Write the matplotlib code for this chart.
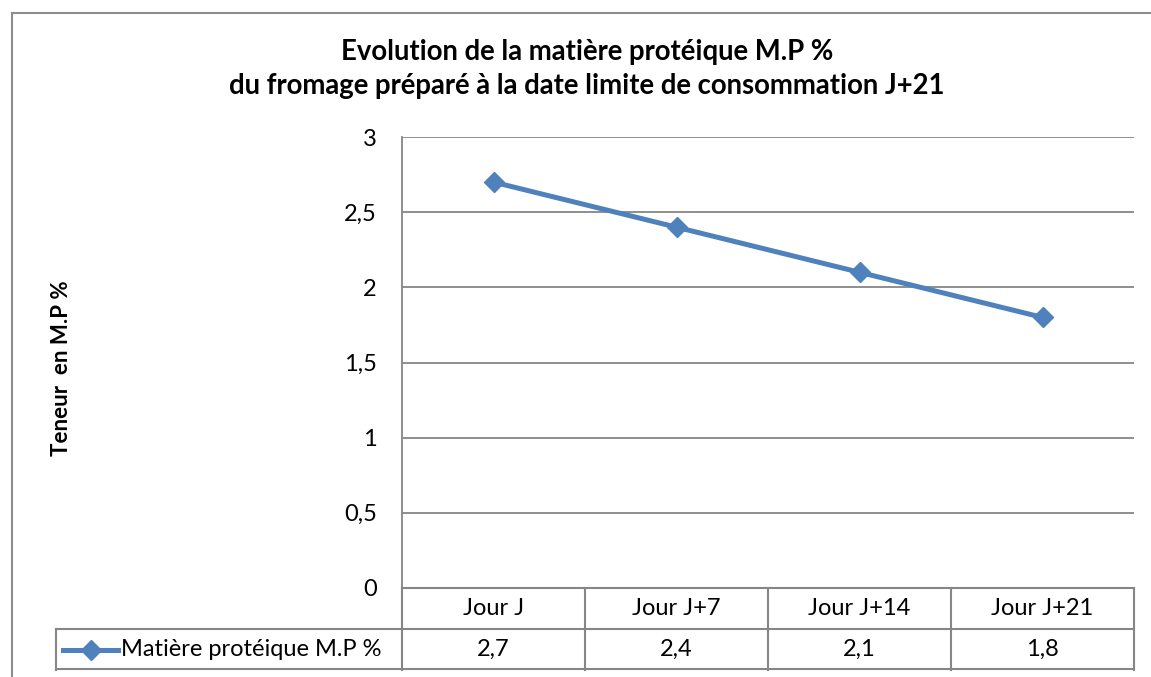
import matplotlib
matplotlib.use("Agg")
import matplotlib.pyplot as plt
from matplotlib.lines import Line2D

categories = ["Jour J", "Jour J+7", "Jour J+14", "Jour J+21"]
values = [2.7, 2.4, 2.1, 1.8]
value_labels = ["2,7", "2,4", "2,1", "1,8"]
series_name = "Matière protéique M.P %"
yticks = [0, 0.5, 1, 1.5, 2, 2.5, 3]
ytick_labels = ["0", "0,5", "1", "1,5", "2", "2,5", "3"]
title = "Evolution de la matière protéique M.P %\ndu fromage préparé à la date limite de consommation J+21"
ylabel = "Teneur  en M.P %"

plt.rcParams['font.family'] = ['Lato', 'DejaVu Sans']

W, H = 1151, 677
fig = plt.figure(figsize=(W / 100, H / 100), dpi=100)
fig.patch.set_facecolor("white")

def fx(px):
    return px / W

def fy(py):
    return 1 - py / H

L, R, T, B = 402, 1134, 137, 588
ax = fig.add_axes([fx(L), fy(B), fx(R) - fx(L), fy(T) - fy(B)])

blue = "#4F81BD"
grid = "#868686"
fs = 17
x = list(range(len(categories)))
ax.plot(x, values, color=blue, lw=3.6, marker="D", markersize=10.5,
        markerfacecolor=blue, markeredgecolor=blue, zorder=3, clip_on=False)

ax.set_xlim(-0.5, len(categories) - 0.5)
ax.set_ylim(0, 3)
ax.set_yticks(yticks)
ax.set_yticklabels(ytick_labels, fontsize=fs)
ax.tick_params(axis="y", length=0, pad=18)
ax.set_xticks([])
for t in ax.get_yticklabels():
    t.set_color("#000000")
for y in yticks[1:]:
    ax.axhline(y, color=grid, lw=1.3, zorder=1)
for s in ["top", "right", "bottom"]:
    ax.spines[s].set_visible(False)
ax.spines["left"].set_color(grid)
ax.spines["left"].set_linewidth(1.3)

# Data table below the plot
row_h = 41 / (B - T)
tr = ax.get_xaxis_transform()
lw_t = 1.5
ax.plot([-0.5, 3.5], [0, 0], transform=tr, color=grid, lw=lw_t, clip_on=False)

def dx(px):
    return (px - L) / (R - L) * 4 - 0.5

leg_left = dx(56)
for yy in [-row_h, -2 * row_h + 0.002]:
    ax.plot([leg_left, 3.5], [yy, yy], transform=tr, color=grid, lw=lw_t, clip_on=False)
for i in range(len(categories) + 1):
    xx = i - 0.5
    ax.plot([xx, xx], [0, -2 * row_h], transform=tr, color=grid, lw=lw_t, clip_on=False)
ax.plot([leg_left, leg_left], [-row_h, -2 * row_h], transform=tr, color=grid, lw=lw_t, clip_on=False)

for i, (c, v) in enumerate(zip(categories, value_labels)):
    ax.text(i, -row_h / 2, c, transform=tr, ha="center", va="center", fontsize=fs)
    ax.text(i, -1.5 * row_h, v, transform=tr, ha="center", va="center", fontsize=fs)

# legend key in table
ax.plot([dx(63), dx(118)], [-1.5 * row_h] * 2, transform=tr, color=blue, lw=3.6,
        clip_on=False)
ax.plot([dx(90.5)], [-1.5 * row_h], transform=tr, marker="D", markersize=10.5,
        color=blue, clip_on=False)
ax.text(dx(121), -1.5 * row_h, series_name, transform=tr, ha="left", va="center", fontsize=fs)

# title and y label
fig.text(fx(587), fy(69), title, ha="center", va="center", fontsize=19.8,
         fontweight="bold", linespacing=1.35)
fig.text(fx(62), fy(368), ylabel, ha="center", va="center", rotation=90,
         fontsize=16, fontweight="bold")

# outer frame
fig.add_artist(Line2D([fx(11.5), fx(11.5)], [fy(12.5), 0], transform=fig.transFigure,
                      color="#8c8c8c", lw=1.5))
fig.add_artist(Line2D([fx(11.5), 1], [fy(12.5), fy(12.5)], transform=fig.transFigure,
                      color="#8c8c8c", lw=1.5))

fig.savefig("out.png", dpi=100)
